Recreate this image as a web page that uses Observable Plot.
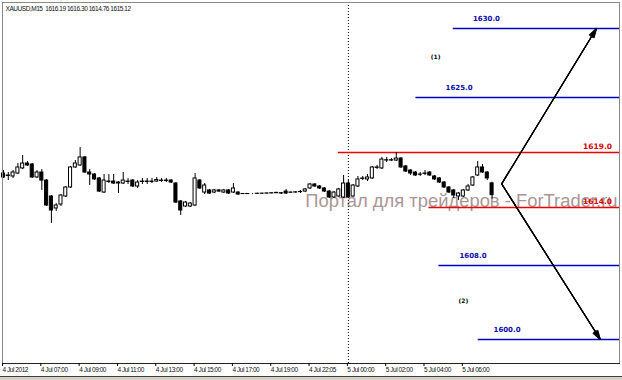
<!DOCTYPE html>
<html><head><meta charset="utf-8">
<script src="https://cdn.jsdelivr.net/npm/d3@7"></script>
<script src="https://cdn.jsdelivr.net/npm/@observablehq/plot@0.6"></script>
<style>
body{margin:0;background:#fff;}
#chart{width:622px;height:376px;overflow:hidden}
#chart svg{display:block}
#chart svg text.tight, #chart svg .tight text{letter-spacing:-0.45px}
#bar{width:622px;height:4px;background:#d4d0c8;border-top:1px solid #404040;box-sizing:border-box}
</style></head><body><div id="chart"></div><div id="bar"></div><script>
// ---- data ----
const title = "XAUUSD,M15  1616.19 1616.30 1614.76 1615.12";
const watermark = "Портал для трейдеров - ForTrader.ru";
const opens = [1617.09,1616.91,1616.82,1617.09,1617.55,1618.00,1617.91,1616.73,1617.18,1616.45,
1615.00,1613.90,1614.27,1615.00,1615.82,1617.64,1617.82,1618.55,1617.18,1617.00,
1616.64,1615.36,1616.36,1616.36,1616.27,1616.18,1616.36,1616.45,1615.91,1616.36,
1616.32,1616.36,1616.36,1616.45,1616.41,1616.45,1616.18,1614.55,1614.09,1614.09,
1614.18,1616.45,1615.36,1615.55,1615.36,1615.55,1615.36,1615.55,1615.36,1615.36,
1615.23,1615.22,1615.23,1615.24,1615.25,1615.26,1615.28,1615.30,1615.30,1615.45,
1615.34,1615.36,1615.40,1615.45,1615.73,1616.09,1615.91,1615.73,1615.45,1614.91,
1615.00,1614.91,1616.18,1615.00,1615.91,1616.60,1616.55,1616.64,1617.60,1617.55,
1618.30,1618.27,1618.27,1618.45,1617.73,1617.36,1617.18,1617.00,1617.09,1617.18,
1616.82,1616.64,1616.27,1615.82,1615.55,1615.00,1615.00,1615.55,1616.00,1616.91,
1617.64,1617.18,1616.19];
const highs = [1617.36,1617.18,1617.36,1618.00,1618.73,1618.18,1618.00,1617.36,1617.45,1616.55,
1615.09,1614.36,1615.18,1615.91,1617.73,1618.27,1619.55,1618.64,1617.45,1617.09,
1616.73,1617.00,1617.00,1617.00,1616.36,1617.18,1616.64,1616.55,1616.45,1616.64,
1616.64,1616.64,1616.73,1616.64,1616.64,1616.55,1616.27,1614.64,1614.55,1614.45,
1617.09,1616.55,1616.18,1615.64,1615.64,1615.64,1615.64,1615.64,1616.18,1615.45,
1615.27,1615.27,1615.27,1615.30,1615.30,1615.32,1615.34,1615.38,1615.36,1615.64,
1615.42,1615.45,1615.55,1615.73,1616.18,1616.18,1616.00,1615.82,1615.55,1615.45,
1615.73,1616.91,1616.45,1616.09,1616.82,1616.82,1617.00,1617.73,1617.82,1618.55,
1618.55,1618.45,1619.00,1618.55,1617.82,1617.45,1617.27,1617.18,1617.36,1617.27,
1616.91,1616.73,1616.36,1615.91,1615.64,1615.36,1615.64,1616.09,1616.82,1618.18,
1617.91,1617.27,1616.30];
const lows = [1616.64,1616.45,1616.64,1617.00,1617.45,1617.73,1616.64,1616.64,1615.55,1614.09,
1612.35,1613.59,1614.09,1614.91,1615.73,1617.55,1617.73,1617.09,1616.00,1616.45,
1615.36,1615.27,1616.18,1616.09,1615.27,1616.09,1616.09,1615.82,1615.73,1616.09,
1616.09,1616.18,1616.27,1616.27,1616.27,1616.18,1614.36,1613.17,1614.00,1614.00,
1614.09,1615.64,1615.18,1615.18,1615.27,1615.36,1615.27,1615.18,1615.27,1615.09,
1615.18,1615.18,1615.18,1615.20,1615.20,1615.22,1615.24,1615.26,1615.18,1615.18,
1615.27,1615.30,1615.27,1615.36,1615.64,1615.82,1615.64,1615.36,1614.82,1614.82,
1614.91,1614.82,1614.82,1614.91,1615.82,1616.45,1616.36,1616.55,1617.45,1617.45,
1618.09,1618.18,1618.18,1617.55,1617.18,1616.91,1616.82,1616.82,1616.91,1616.82,
1616.45,1616.18,1615.73,1615.27,1614.82,1614.64,1614.91,1615.45,1615.91,1616.82,
1617.09,1616.45,1614.76];
const closes = [1616.73,1616.86,1617.18,1617.64,1618.00,1617.82,1616.73,1617.18,1616.45,1614.18,
1613.69,1614.18,1615.09,1615.82,1617.64,1618.00,1618.55,1617.18,1617.00,1616.55,
1615.45,1616.45,1616.32,1616.18,1616.18,1616.45,1616.32,1615.91,1616.27,1616.32,
1616.36,1616.32,1616.50,1616.41,1616.45,1616.27,1614.45,1613.69,1614.45,1614.36,
1616.64,1615.73,1616.00,1615.27,1615.55,1615.45,1615.55,1615.27,1615.73,1615.18,
1615.22,1615.23,1615.23,1615.25,1615.26,1615.28,1615.30,1615.33,1615.27,1615.27,
1615.36,1615.38,1615.42,1615.64,1616.09,1615.91,1615.73,1615.45,1614.91,1615.36,
1615.64,1616.18,1614.91,1616.00,1616.55,1616.64,1616.73,1617.64,1617.64,1618.36,
1618.27,1618.30,1618.45,1617.64,1617.27,1617.09,1616.91,1616.98,1617.06,1616.91,
1616.55,1616.27,1615.82,1615.36,1615.09,1615.27,1615.55,1615.91,1616.73,1617.64,
1617.18,1616.64,1615.12];
const tickBars = [0,8,16,24,32,40,48,56,64,72,80,88,96];
const tickLabels = ["4 Jul 2012","4 Jul 07:00","4 Jul 09:00","4 Jul 11:00","4 Jul 13:00","4 Jul 15:00",
  "4 Jul 17:00","4 Jul 19:00","4 Jul 22:05","5 Jul 00:00","5 Jul 02:00","5 Jul 04:00","5 Jul 06:00"];
const sessionBreaks = [72];
const chartEndBar = 128.5;
const levelPrices = [1630, 1625, 1619, 1614, 1608, 1600];
const levelLabels = ["1630.0","1625.0","1619.0","1614.0","1608.0","1600.0"];
const levelKinds = ["target","target","range","range","target","target"];
const levelStartBar = [93.8, 86, 69.8, 88.7, 90.8, 99];
const levelLabelBar = [98, 92.3, 121, 121, 95.2, 102.3];
const scenarioNames = ["(1)", "(2)"];
const scenarioBar = [89.2, 95];
const scenarioPrice = [1627.9, 1604.2];
const arrowFromBar = [104, 104];
const arrowFromPrice = [1616.15, 1616.15];
const arrowToBar = [123.8, 124.6];
const arrowToPrice = [1630, 1600];

// ---- tables ----
const bars = opens.map((o, i) => ({i, o, h: highs[i], l: lows[i], c: closes[i], up: closes[i] >= o}));
const levels = levelPrices.map((p, k) => ({p, label: levelLabels[k], kind: levelKinds[k], x1: levelStartBar[k], lx: levelLabelBar[k]}));
const scen = scenarioNames.map((n, k) => ({n, x: scenarioBar[k], y: scenarioPrice[k]}));
const arrows = arrowFromBar.map((b, k) => ({x1: b, y1: arrowFromPrice[k], x2: arrowToBar[k], y2: arrowToPrice[k]}));

const BLUE = "#0000c8", RED = "#ee0000";
const sans = "Liberation Sans, Arial, sans-serif";
const bold = "DejaVu Sans, sans-serif";

const arrowMarks = [34, 24, 14, 6].map(a => Plot.arrow(arrows, {x1: "x1", y1: "y1", x2: "x2", y2: "y2",
  stroke: "#000", strokeWidth: 1.1, headAngle: a, headLength: 13}));

const chart = Plot.plot({
  width: 622, height: 376,
  marginTop: 2, marginLeft: 2, marginRight: 3, marginBottom: 13,
  style: {background: "#fff", overflow: "visible"},
  x: {type: "linear", domain: [0, chartEndBar], range: [3, 618.5], axis: null},
  y: {type: "linear", domain: [1600, 1608, 1614, 1619, 1625, 1630], range: [339, 265, 207, 152, 97, 28], axis: null},
  marks: [
    Plot.text([watermark], {frameAnchor: "right", textAnchor: "end", dx: -2, dy: 18, fontSize: 18.4,
      fontFamily: sans, fill: "#ab9696"}),
    Plot.ruleX(sessionBreaks, {x: d => d, stroke: "#000", strokeDasharray: "1,2"}),
    Plot.link(levels, {x1: "x1", x2: () => chartEndBar, y1: "p", y2: "p",
      stroke: d => d.kind === "range" ? RED : BLUE, strokeWidth: 1.3}),
    Plot.text(levels.filter(d => d.kind === "target"), {x: "lx", y: "p", text: "label", textAnchor: "start", dy: -10,
      fontSize: 7, fontWeight: "bold", fontFamily: bold, fill: "#0a0aa8"}),
    Plot.text(levels.filter(d => d.kind === "range"), {x: "lx", y: "p", text: "label", textAnchor: "start", dy: -5.5,
      fontSize: 7.5, fontWeight: "bold", fontFamily: bold, fill: "#d80000"}),
    Plot.text(scen, {x: "x", y: "y", text: "n", textAnchor: "start", fontSize: 6, fontWeight: "bold", fontFamily: bold, fill: "#000"}),
    ...arrowMarks,
    Plot.ruleX(bars, {x: "i", y1: "l", y2: "h", stroke: "#000", strokeWidth: 1}),
    Plot.rect(bars, {x1: d => d.i - 0.32, x2: d => d.i + 0.32, y1: "o", y2: "c",
      fill: d => d.up ? "#fff" : "#000", stroke: "#000", strokeWidth: 1}),
    Plot.text([title], {frameAnchor: "top-left", textAnchor: "start", dx: 3, dy: 4, fontSize: 6.5,
      fontFamily: sans, fill: "#111", className: "tight"}),
    Plot.frame({stroke: "#8a8a8a"}),
    Plot.frame({anchor: "bottom", stroke: "#222"}),
    Plot.axisX({ticks: tickBars, tickFormat: d => tickLabels[tickBars.indexOf(d)], tickSize: 3, tickPadding: 1,
      textAnchor: "start", dx: -1, fontSize: 6.5, fontFamily: sans, fill: "#111", stroke: "#000", className: "tight"})
  ]
});
document.getElementById("chart").appendChild(chart);
</script></body></html>
